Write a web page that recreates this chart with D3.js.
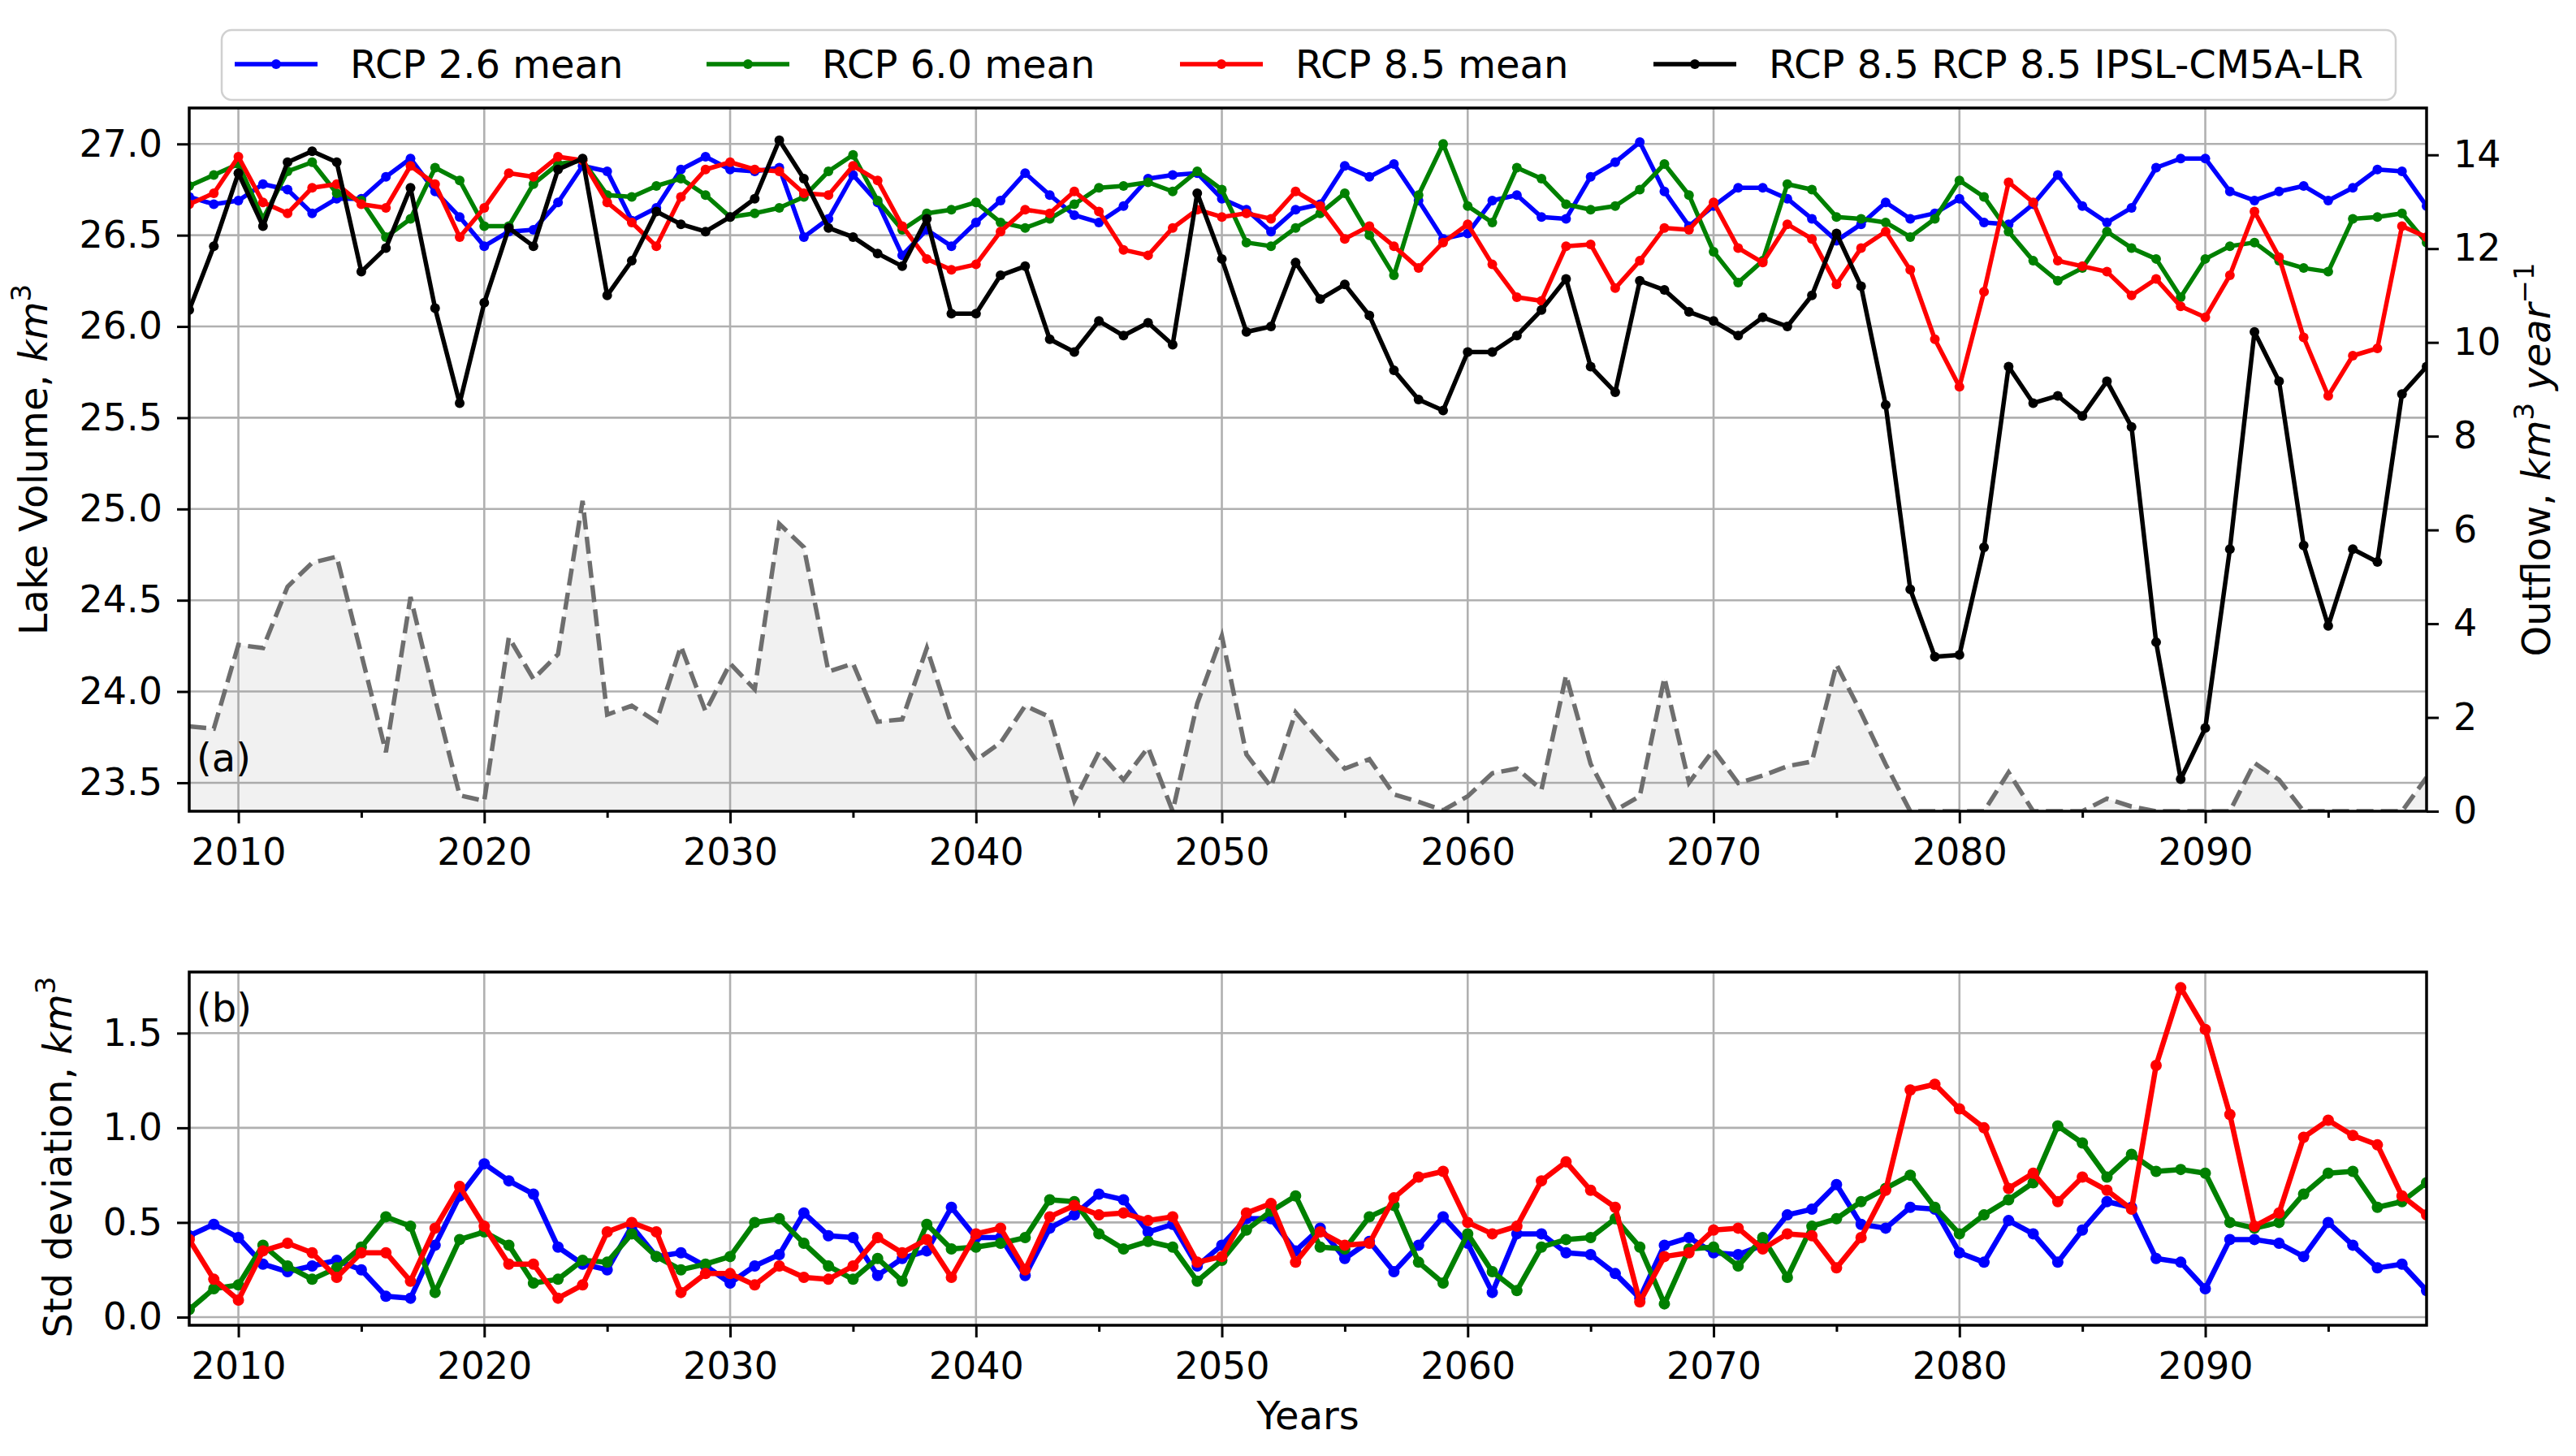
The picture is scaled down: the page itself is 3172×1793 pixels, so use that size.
<!DOCTYPE html>
<html>
<head>
<meta charset="utf-8">
<script src="https://cdn.jsdelivr.net/npm/d3@7"></script>
<style>
  body { margin: 0; background: #fff; }
  svg { display: block; font-family: "DejaVu Sans", sans-serif; }
</style>
</head>
<body>
<div id="app"></div>
<script>
// ---- data, one value per year 2008..2099 ----
const years = d3.range(2008, 2100);

const rcp26Volume = [
  26.71, 26.67, 26.69, 26.78, 26.75, 26.62, 26.70, 26.70, 26.82, 26.92, 26.74, 26.60, 26.44, 26.52, 26.53, 26.68, 26.88, 26.85, 26.58, 26.65, 26.86, 26.93, 26.86,
  26.85, 26.87, 26.49, 26.59, 26.83, 26.68, 26.39, 26.53, 26.44, 26.57, 26.69, 26.84, 26.72, 26.61, 26.57, 26.66, 26.81, 26.83, 26.84, 26.70, 26.64, 26.52,
  26.64, 26.67, 26.88, 26.82, 26.89, 26.69, 26.48, 26.51, 26.69, 26.72, 26.60, 26.59, 26.82, 26.90, 27.01, 26.74, 26.55, 26.66, 26.76, 26.76, 26.70, 26.59,
  26.47, 26.56, 26.68, 26.59, 26.62, 26.70, 26.57, 26.56, 26.67, 26.83, 26.66, 26.57, 26.65, 26.87, 26.92, 26.92, 26.74, 26.69, 26.74, 26.77, 26.69, 26.76, 26.86, 26.85, 26.66
];
const rcp60Volume = [
  26.77, 26.83, 26.89, 26.59, 26.85, 26.90, 26.73, 26.69, 26.49, 26.59, 26.87, 26.80, 26.55, 26.55, 26.78, 26.89, 26.91, 26.72, 26.71, 26.77, 26.81, 26.72, 26.60,
  26.62, 26.65, 26.71, 26.85, 26.94, 26.69, 26.53, 26.62, 26.64, 26.68, 26.57, 26.54, 26.59, 26.67, 26.76, 26.77, 26.79, 26.74, 26.85, 26.75, 26.46, 26.44,
  26.54, 26.62, 26.73, 26.50, 26.28, 26.72, 27.00, 26.66, 26.57, 26.87, 26.81, 26.67, 26.64, 26.66, 26.75, 26.89, 26.72, 26.41, 26.24, 26.36, 26.78, 26.75,
  26.60, 26.59, 26.57, 26.49, 26.59, 26.80, 26.71, 26.52, 26.36, 26.25, 26.32, 26.52, 26.43, 26.37, 26.16, 26.37, 26.44, 26.46, 26.36, 26.32, 26.30, 26.59, 26.60, 26.62, 26.46
];
const rcp85Volume = [
  26.67, 26.73, 26.93, 26.68, 26.62, 26.76, 26.78, 26.67, 26.65, 26.88, 26.78, 26.49, 26.65, 26.84, 26.82, 26.93, 26.91, 26.68, 26.57, 26.44, 26.71, 26.86, 26.90,
  26.86, 26.85, 26.73, 26.72, 26.88, 26.80, 26.55, 26.37, 26.31, 26.34, 26.52, 26.64, 26.62, 26.74, 26.63, 26.42, 26.39, 26.54, 26.64, 26.60, 26.62, 26.59,
  26.74, 26.66, 26.48, 26.55, 26.44, 26.32, 26.46, 26.56, 26.34, 26.16, 26.14, 26.44, 26.45, 26.21, 26.36, 26.54, 26.53, 26.68, 26.43, 26.35, 26.56, 26.48,
  26.23, 26.43, 26.52, 26.31, 25.93, 25.67, 26.19, 26.79, 26.68, 26.36, 26.33, 26.30, 26.17, 26.26, 26.11, 26.05, 26.28, 26.63, 26.38, 25.94, 25.62, 25.84, 25.88, 26.55, 26.49
];
const ipslVolume = [
  26.09, 26.44, 26.84, 26.55, 26.90, 26.96, 26.90, 26.30, 26.43, 26.76, 26.10, 25.58, 26.13, 26.54, 26.44, 26.86, 26.92, 26.17, 26.36, 26.63, 26.56, 26.52, 26.60,
  26.70, 27.02, 26.81, 26.54, 26.49, 26.40, 26.33, 26.59, 26.07, 26.07, 26.28, 26.33, 25.93, 25.86, 26.03, 25.95, 26.02, 25.90, 26.73, 26.37, 25.97, 26.00,
  26.35, 26.15, 26.23, 26.06, 25.76, 25.60, 25.54, 25.86, 25.86, 25.95, 26.09, 26.26, 25.78, 25.64, 26.25, 26.20, 26.08, 26.03, 25.95, 26.05, 26.00, 26.17,
  26.51, 26.22, 25.57, 24.56, 24.19, 24.20, 24.79, 25.78, 25.58, 25.62, 25.51, 25.70, 25.45, 24.27, 23.52, 23.80, 24.78, 25.97, 25.70, 24.80, 24.36, 24.78, 24.71, 25.63, 25.78
];
const ipslOutflow = [
  1.81, 1.76, 3.55, 3.48, 4.79, 5.30, 5.43, 3.35, 1.26, 4.57, 2.40, 0.34, 0.22, 3.71, 2.82, 3.35, 6.62, 2.06, 2.25, 1.91, 3.52, 2.13, 3.15,
  2.60, 6.13, 5.63, 2.98, 3.15, 1.91, 1.96, 3.48, 1.86, 1.09, 1.46, 2.25, 2.01, 0.22, 1.26, 0.67, 1.36, 0.00, 2.30, 3.74, 1.21, 0.52,
  2.11, 1.50, 0.91, 1.11, 0.36, 0.20, 0.02, 0.32, 0.81, 0.91, 0.46, 2.90, 1.01, 0.02, 0.32, 2.85, 0.61, 1.31, 0.60, 0.76, 0.96, 1.06,
  3.13, 2.10, 1.00, 0.00, 0.00, 0.00, 0.00, 0.83, 0.00, 0.00, 0.00, 0.27, 0.10, 0.00, 0.00, 0.00, 0.00, 1.03, 0.67, 0.00, 0.00, 0.00, 0.00, 0.00, 0.72
];
const rcp26Std = [
  0.43, 0.49, 0.42, 0.28, 0.24, 0.27, 0.30, 0.25, 0.11, 0.10, 0.38, 0.64, 0.81, 0.72, 0.65, 0.37, 0.28, 0.25, 0.48, 0.32, 0.34, 0.27, 0.18,
  0.27, 0.33, 0.55, 0.43, 0.42, 0.22, 0.31, 0.35, 0.58, 0.42, 0.42, 0.22, 0.47, 0.54, 0.65, 0.62, 0.45, 0.49, 0.27, 0.38, 0.52, 0.52,
  0.35, 0.47, 0.31, 0.40, 0.24, 0.38, 0.53, 0.39, 0.13, 0.44, 0.44, 0.34, 0.33, 0.23, 0.10, 0.38, 0.42, 0.34, 0.33, 0.38, 0.54, 0.57,
  0.70, 0.49, 0.47, 0.58, 0.57, 0.34, 0.29, 0.51, 0.44, 0.29, 0.46, 0.61, 0.58, 0.31, 0.29, 0.15, 0.41, 0.41, 0.39, 0.32, 0.50, 0.38, 0.26, 0.28, 0.14
];
const rcp60Std = [
  0.04, 0.15, 0.17, 0.38, 0.27, 0.20, 0.26, 0.37, 0.53, 0.48, 0.13, 0.41, 0.45, 0.38, 0.18, 0.20, 0.30, 0.29, 0.44, 0.32, 0.25, 0.28, 0.32,
  0.50, 0.52, 0.39, 0.27, 0.20, 0.31, 0.19, 0.49, 0.36, 0.37, 0.39, 0.42, 0.62, 0.61, 0.44, 0.36, 0.40, 0.37, 0.19, 0.30, 0.46, 0.56,
  0.64, 0.37, 0.36, 0.53, 0.59, 0.29, 0.18, 0.44, 0.24, 0.14, 0.37, 0.41, 0.42, 0.52, 0.37, 0.07, 0.36, 0.37, 0.27, 0.42, 0.21, 0.48,
  0.52, 0.61, 0.68, 0.75, 0.58, 0.44, 0.54, 0.62, 0.71, 1.01, 0.92, 0.74, 0.86, 0.77, 0.78, 0.76, 0.50, 0.47, 0.50, 0.65, 0.76, 0.77, 0.58, 0.61, 0.71
];
const rcp85Std = [
  0.41, 0.20, 0.09, 0.35, 0.39, 0.34, 0.21, 0.34, 0.34, 0.19, 0.47, 0.69, 0.48, 0.28, 0.28, 0.10, 0.17, 0.45, 0.50, 0.45, 0.13, 0.23, 0.23,
  0.17, 0.27, 0.21, 0.20, 0.27, 0.42, 0.34, 0.41, 0.21, 0.44, 0.47, 0.25, 0.53, 0.59, 0.54, 0.55, 0.51, 0.53, 0.29, 0.32, 0.55, 0.60,
  0.29, 0.45, 0.38, 0.39, 0.63, 0.74, 0.77, 0.50, 0.44, 0.48, 0.72, 0.82, 0.67, 0.58, 0.08, 0.32, 0.34, 0.46, 0.47, 0.36, 0.44, 0.43,
  0.26, 0.42, 0.67, 1.20, 1.23, 1.10, 1.00, 0.68, 0.76, 0.61, 0.74, 0.67, 0.57, 1.33, 1.74, 1.52, 1.07, 0.48, 0.55, 0.95, 1.04, 0.96, 0.91, 0.64, 0.54
];

const xMajorTicks = [2010, 2020, 2030, 2040, 2050, 2060, 2070, 2080, 2090];
const xMinorTicks = [2015, 2025, 2035, 2045, 2055, 2065, 2075, 2085, 2095];
const volumeTicks = [23.5, 24.0, 24.5, 25.0, 25.5, 26.0, 26.5, 27.0];
const outflowTicks = [0, 2, 4, 6, 8, 10, 12, 14];
const stdTicks = [0.0, 0.5, 1.0, 1.5];

const volumeSeries = [
  { name: "RCP 2.6 mean", color: "#0000ff", values: rcp26Volume },
  { name: "RCP 6.0 mean", color: "#008000", values: rcp60Volume },
  { name: "RCP 8.5 mean", color: "#ff0000", values: rcp85Volume },
  { name: "RCP 8.5 RCP 8.5 IPSL-CM5A-LR", color: "#000000", values: ipslVolume }
];
const stdSeries = [
  { color: "#0000ff", values: rcp26Std },
  { color: "#008000", values: rcp60Std },
  { color: "#ff0000", values: rcp85Std }
];

// ---- layout ----
const width = 3172, height = 1793;
const left = 233, right = 2988;
const topA = 133, botA = 999;     // panel (a)
const topB = 1197, botB = 1632;   // panel (b)
const fontSize = 46;

const x = d3.scaleLinear().domain([2008, 2099]).range([left, right]);
const yVol = d3.scaleLinear().domain([23.344, 27.197]).range([botA, topA]);
const yOut = d3.scaleLinear().domain([0, 15]).range([botA, topA]);
const yStd = d3.scaleLinear().domain([-0.043, 1.823]).range([botB, topB]);

const svg = d3.select("#app").append("svg")
  .attr("width", width)
  .attr("height", height);

svg.append("rect").attr("width", width).attr("height", height).attr("fill", "#fff");

const defs = svg.append("defs");
defs.append("clipPath").attr("id", "clipA")
  .append("rect").attr("x", left).attr("y", topA).attr("width", right - left).attr("height", botA - topA);
defs.append("clipPath").attr("id", "clipB")
  .append("rect").attr("x", left).attr("y", topB).attr("width", right - left).attr("height", botB - topB);

function grid(yScale, yTicks, y0, y1) {
  const g = svg.append("g").attr("stroke", "#b0b0b0").attr("stroke-width", 2.6);
  g.selectAll(".gx").data(xMajorTicks).enter().append("line")
    .attr("x1", d => x(d)).attr("x2", d => x(d))
    .attr("y1", y0).attr("y2", y1);
  g.selectAll(".gy").data(yTicks).enter().append("line")
    .attr("x1", left).attr("x2", right)
    .attr("y1", d => yScale(d)).attr("y2", d => yScale(d));
}

function drawSeries(g, yScale, series, lw, r) {
  series.forEach(s => {
    const pts = years.map((yr, i) => [yr, s.values[i]]);
    g.append("path")
      .attr("d", d3.line().x(d => x(d[0])).y(d => yScale(d[1]))(pts))
      .attr("fill", "none")
      .attr("stroke", s.color)
      .attr("stroke-width", lw)
      .attr("stroke-linejoin", "round");
    g.append("g").selectAll("circle").data(pts).enter().append("circle")
      .attr("cx", d => x(d[0]))
      .attr("cy", d => yScale(d[1]))
      .attr("r", r)
      .attr("fill", s.color);
  });
}

function styleAxis(g) {
  g.select(".domain").remove();
  g.selectAll(".tick line").attr("stroke", "#000").attr("stroke-width", 3);
  g.selectAll(".tick text")
    .attr("fill", "#000")
    .style("font-size", fontSize + "px")
    .style("font-family", "DejaVu Sans");
}

function xAxes(yBottom) {
  const major = svg.append("g").attr("transform", `translate(0,${yBottom})`)
    .call(d3.axisBottom(x).tickValues(xMajorTicks).tickFormat(d3.format("d")).tickSize(15).tickPadding(18));
  styleAxis(major);
  const minor = svg.append("g").attr("transform", `translate(0,${yBottom})`)
    .call(d3.axisBottom(x).tickValues(xMinorTicks).tickFormat("").tickSize(8));
  styleAxis(minor);
}

// ---- panel (a) ----
grid(yVol, volumeTicks, topA, botA);

const gA = svg.append("g").attr("clip-path", "url(#clipA)");
drawSeries(gA, yVol, volumeSeries, 5.5, 6);

// outflow on the twin axis
const outPts = years.map((yr, i) => [yr, ipslOutflow[i]]);
gA.append("path")
  .attr("d", d3.area().x(d => x(d[0])).y0(yOut(0)).y1(d => yOut(d[1]))(outPts))
  .attr("fill", "#808080")
  .attr("fill-opacity", 0.11);
gA.append("path")
  .attr("d", d3.line().x(d => x(d[0])).y(d => yOut(d[1]))(outPts))
  .attr("fill", "none")
  .attr("stroke", "#6e6e6e")
  .attr("stroke-width", 5.5)
  .attr("stroke-dasharray", "21,9");

svg.append("rect")
  .attr("x", left).attr("y", topA).attr("width", right - left).attr("height", botA - topA)
  .attr("fill", "none").attr("stroke", "#000").attr("stroke-width", 3.5);

const yAxisA = svg.append("g").attr("transform", `translate(${left},0)`)
  .call(d3.axisLeft(yVol).tickValues(volumeTicks).tickFormat(d3.format(".1f")).tickSize(15).tickPadding(18));
styleAxis(yAxisA);
const yAxisOut = svg.append("g").attr("transform", `translate(${right},0)`)
  .call(d3.axisRight(yOut).tickValues(outflowTicks).tickFormat(d3.format("d")).tickSize(15).tickPadding(18));
styleAxis(yAxisOut);
xAxes(botA);

svg.append("text").attr("x", 242).attr("y", 950)
  .style("font-size", "48px").text("(a)");

// ---- panel (b) ----
grid(yStd, stdTicks, topB, botB);
const gB = svg.append("g").attr("clip-path", "url(#clipB)");
drawSeries(gB, yStd, stdSeries, 6.5, 7);

svg.append("rect")
  .attr("x", left).attr("y", topB).attr("width", right - left).attr("height", botB - topB)
  .attr("fill", "none").attr("stroke", "#000").attr("stroke-width", 3.5);

const yAxisB = svg.append("g").attr("transform", `translate(${left},0)`)
  .call(d3.axisLeft(yStd).tickValues(stdTicks).tickFormat(d3.format(".1f")).tickSize(15).tickPadding(18));
styleAxis(yAxisB);
xAxes(botB);

svg.append("text").attr("x", 242).attr("y", 1258)
  .style("font-size", "48px").text("(b)");

// ---- axis labels ----
function rotatedLabel(cx, cy, parts) {
  const t = svg.append("text")
    .attr("transform", `translate(${cx},${cy}) rotate(-90)`)
    .attr("text-anchor", "middle")
    .style("font-size", "48px");
  parts.forEach(p => {
    const ts = t.append("tspan").text(p.text);
    if (p.italic) ts.style("font-style", "italic");
    if (p.sup) ts.style("font-size", "34px").attr("dy", p.dy);
    else if (p.dy) ts.attr("dy", p.dy);
  });
}

rotatedLabel(58, 566, [
  { text: "Lake Volume, " },
  { text: "km", italic: true },
  { text: "3", sup: true, dy: -20 }
]);
rotatedLabel(88, 1425, [
  { text: "Std deviation, " },
  { text: "km", italic: true },
  { text: "3", sup: true, dy: -20 }
]);
rotatedLabel(3140, 566, [
  { text: "Outflow, " },
  { text: "km", italic: true },
  { text: "3", sup: true, dy: -20 },
  { text: " ", dy: 20 },
  { text: "year", italic: true },
  { text: "\u22121", sup: true, dy: -20 }
]);

svg.append("text").attr("x", (left + right) / 2).attr("y", 1760)
  .attr("text-anchor", "middle").style("font-size", "48px").text("Years");

// ---- legend ----
const legend = svg.append("g");
legend.append("rect")
  .attr("x", 273).attr("y", 37).attr("width", 2677).attr("height", 86)
  .attr("rx", 12).attr("ry", 12)
  .attr("fill", "#fff").attr("stroke", "#d0d0d0").attr("stroke-width", 2.5);

const legendX = [289, 870, 1453, 2036];
const legendY = 79;
volumeSeries.forEach((s, i) => {
  const gx = legendX[i];
  legend.append("line")
    .attr("x1", gx).attr("x2", gx + 102)
    .attr("y1", legendY).attr("y2", legendY)
    .attr("stroke", s.color).attr("stroke-width", 5.5);
  legend.append("circle")
    .attr("cx", gx + 51).attr("cy", legendY).attr("r", 6).attr("fill", s.color);
  legend.append("text")
    .attr("x", gx + 142).attr("y", legendY).attr("dy", "0.36em")
    .style("font-size", "48px").text(s.name);
});
</script>
</body>
</html>
